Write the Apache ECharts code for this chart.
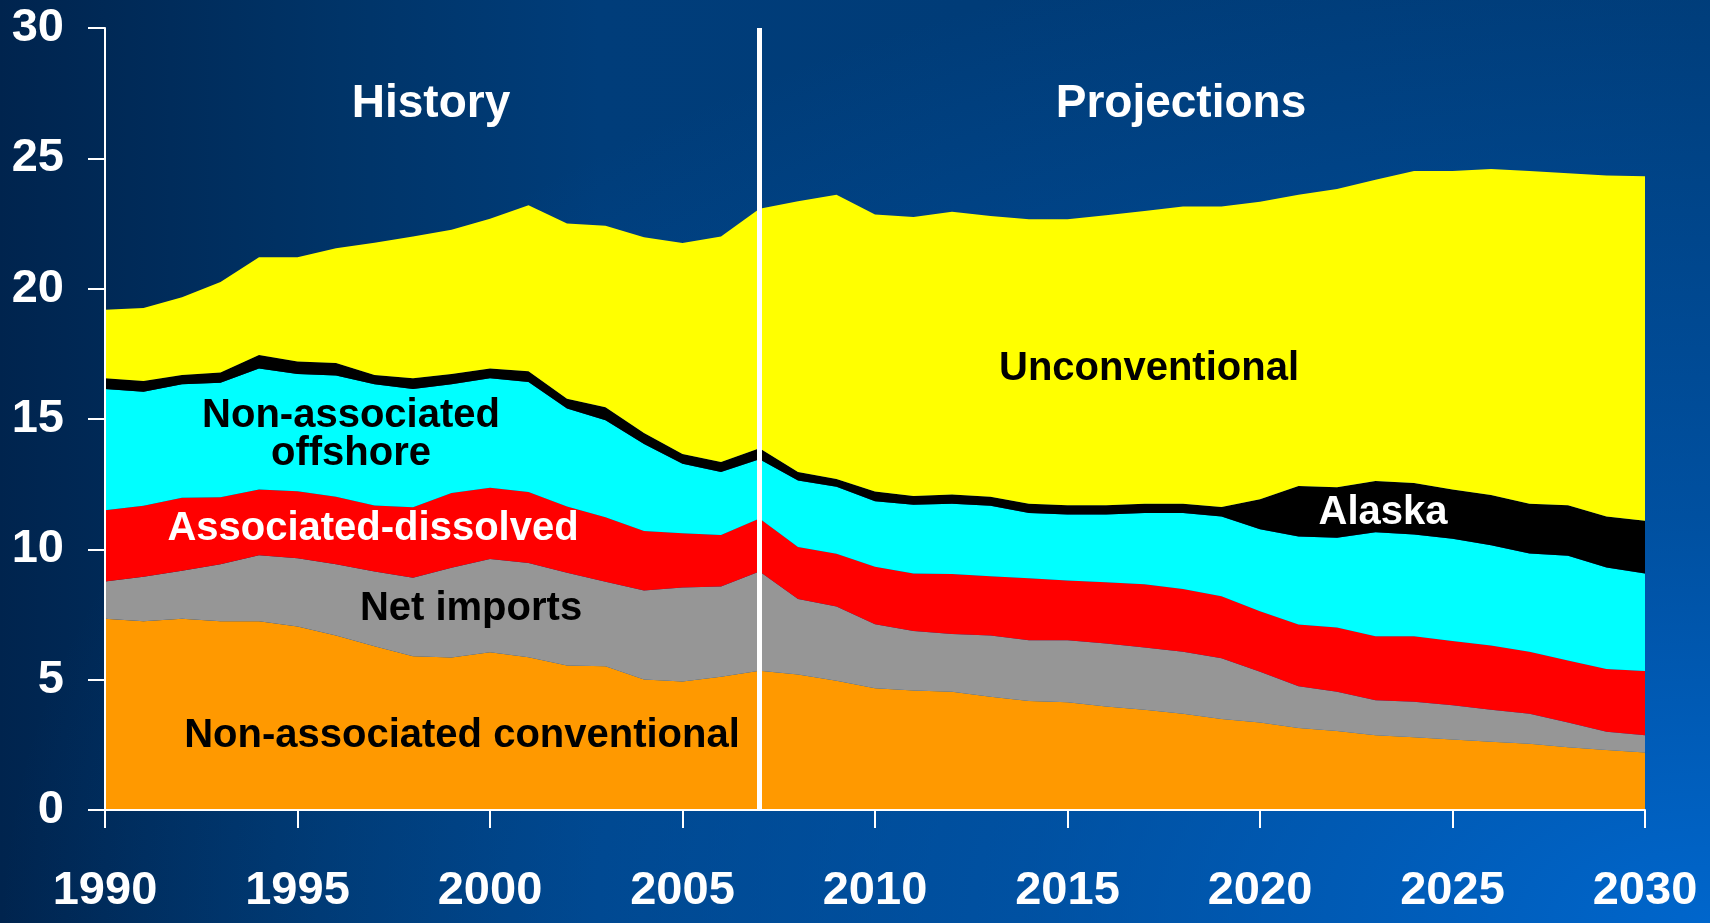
<!DOCTYPE html>
<html>
<head>
<meta charset="utf-8">
<title>Natural gas supply by source, 1990-2030</title>
<script src="https://cdn.jsdelivr.net/npm/echarts@6/dist/echarts.min.js"></script>
<style>
    html, body {
        margin: 0;
        padding: 0;
        width: 1710px;
        height: 923px;
        overflow: hidden;
    }
    body {
        background:
            radial-gradient(ellipse 1710px 1015px at 100% 100%, rgba(0, 102, 204, 1) 0%, rgba(0, 102, 204, 0.5) 40%, rgba(0, 102, 204, 0) 100%),
            linear-gradient(to right, #00244e 0%, #003468 20%, #003d7a 35%, #003a74 100%);
    }
    #chart {
        width: 1710px;
        height: 923px;
    }
</style>
</head>
<body>
<div id="chart"></div>
<script>
    // years on the x axis
    const years = [];
    for (let y = 1990; y <= 2030; y++) years.push(String(y));

    // layer values (tcf), bottom to top
    const nonAssocConventional = [7.34, 7.24, 7.34, 7.24, 7.24, 7.04, 6.69, 6.28, 5.90, 5.85,
        6.05, 5.86, 5.54, 5.51, 5.01, 4.93, 5.11, 5.34, 5.20, 4.96,
        4.67, 4.58, 4.54, 4.34, 4.18, 4.13, 3.97, 3.85, 3.69, 3.49,
        3.36, 3.15, 3.03, 2.87, 2.79, 2.70, 2.62, 2.54, 2.41, 2.30, 2.21];
    const netImports = [1.43, 1.71, 1.84, 2.19, 2.53, 2.62, 2.74, 2.87, 3.01, 3.44,
        3.58, 3.62, 3.56, 3.25, 3.41, 3.61, 3.46, 3.81, 2.89, 2.85,
        2.46, 2.29, 2.21, 2.35, 2.33, 2.38, 2.42, 2.38, 2.38, 2.33,
        1.94, 1.60, 1.51, 1.34, 1.36, 1.32, 1.23, 1.15, 0.95, 0.70, 0.66];
    const assocDissolved = [2.73, 2.72, 2.80, 2.57, 2.53, 2.57, 2.59, 2.53, 2.70, 2.87,
        2.73, 2.72, 2.54, 2.47, 2.28, 2.08, 1.98, 2.03, 2.00, 2.02,
        2.20, 2.20, 2.30, 2.28, 2.38, 2.29, 2.35, 2.43, 2.41, 2.38,
        2.32, 2.37, 2.46, 2.46, 2.52, 2.46, 2.46, 2.38, 2.38, 2.41, 2.46];
    const nonAssocOffshore = [4.65, 4.38, 4.35, 4.39, 4.64, 4.50, 4.65, 4.65, 4.54, 4.17,
        4.20, 4.22, 3.76, 3.72, 3.34, 2.66, 2.42, 2.28, 2.55, 2.57,
        2.51, 2.64, 2.70, 2.70, 2.50, 2.54, 2.60, 2.73, 2.91, 3.06,
        3.15, 3.37, 3.44, 3.99, 3.90, 3.93, 3.85, 3.77, 4.01, 3.89, 3.74];
    const alaska = [0.41, 0.41, 0.36, 0.39, 0.52, 0.48, 0.48, 0.36, 0.41, 0.40,
        0.38, 0.41, 0.38, 0.50, 0.42, 0.38, 0.38, 0.42, 0.33, 0.30,
        0.38, 0.34, 0.35, 0.35, 0.36, 0.35, 0.35, 0.36, 0.36, 0.36,
        1.15, 1.94, 1.94, 1.96, 1.97, 1.89, 1.92, 1.91, 1.94, 1.96, 2.03];
    const unconventional = [2.63, 2.80, 2.98, 3.48, 3.75, 4.00, 4.40, 5.07, 5.44, 5.53,
        5.74, 6.37, 6.72, 6.96, 7.51, 8.09, 8.65, 9.19, 10.38, 10.90,
        10.63, 10.70, 10.85, 10.77, 10.91, 10.97, 11.13, 11.23, 11.40, 11.53,
        11.41, 11.17, 11.44, 11.56, 11.97, 12.21, 12.51, 12.76, 12.74, 13.08, 13.21];

    const yTicks = { min: 0, max: 30, interval: 5 };
    const yearStep = 5;
    const splitYear = '2007';

    const font = 'Arial, "Liberation Sans", sans-serif';

    function layer(name, values, color, extra) {
        return Object.assign({
            name: name,
            type: 'line',
            stack: 'supply',
            data: values,
            symbol: 'none',
            showSymbol: false,
            silent: true,
            lineStyle: { width: 0 },
            areaStyle: { color: color, opacity: 1 }
        }, extra || {});
    }

    function label(text, x, y, color, size) {
        return {
            type: 'text',
            x: x,
            y: y,
            z: 100,
            silent: true,
            style: {
                text: text,
                fill: color,
                font: 'bold ' + size + 'px ' + font,
                align: 'center',
                verticalAlign: 'middle',
                lineHeight: 38
            }
        };
    }

    const chart = echarts.init(document.getElementById('chart'), null, { renderer: 'canvas' });
    chart.setOption({
        backgroundColor: 'transparent',
        animation: false,
        grid: { left: 105, right: 65, top: 28, bottom: 113 },
        xAxis: {
            type: 'category',
            data: years,
            boundaryGap: false,
            z: 10,
            axisLine: { lineStyle: { color: '#ffffff', width: 2 } },
            axisTick: {
                show: true, inside: false, length: 18, interval: yearStep - 1,
                lineStyle: { color: '#ffffff', width: 2 }
            },
            splitLine: { show: false },
            axisLabel: {
                color: '#ffffff',
                fontFamily: font,
                fontWeight: 'bold',
                fontSize: 47,
                margin: 58,
                interval: yearStep - 1
            }
        },
        yAxis: {
            type: 'value',
            min: yTicks.min,
            max: yTicks.max,
            interval: yTicks.interval,
            z: 10,
            axisLine: { show: true, lineStyle: { color: '#ffffff', width: 2 } },
            axisTick: { show: true, inside: false, length: 17, lineStyle: { color: '#ffffff', width: 2 } },
            splitLine: { show: false },
            axisLabel: {
                color: '#ffffff',
                fontFamily: font,
                fontWeight: 'bold',
                fontSize: 47,
                margin: 41
            }
        },
        series: [
            layer('Non-associated conventional', nonAssocConventional, '#ff9900'),
            layer('Net imports', netImports, '#969696'),
            layer('Associated-dissolved', assocDissolved, '#ff0000'),
            layer('Non-associated offshore', nonAssocOffshore, '#00ffff'),
            layer('Alaska', alaska, '#000000'),
            layer('Unconventional', unconventional, '#ffff00', {
                markLine: {
                    silent: true,
                    symbol: 'none',
                    label: { show: false },
                    lineStyle: { color: '#ffffff', width: 5, type: 'solid' },
                    data: [{ xAxis: splitYear }],
                    z: 20
                }
            })
        ],
        graphic: [
            label('History', 431, 104, '#ffffff', 46),
            label('Projections', 1181, 104, '#ffffff', 46),
            label('Unconventional', 1149, 369, '#000000', 40),
            label('Non-associated\noffshore', 351, 435, '#000000', 40),
            label('Associated-dissolved', 373, 529, '#ffffff', 40),
            label('Net imports', 471, 609, '#000000', 40),
            label('Non-associated conventional', 462, 736, '#000000', 40),
            label('Alaska', 1383, 513, '#ffffff', 40)
        ]
    });
</script>
</body>
</html>
